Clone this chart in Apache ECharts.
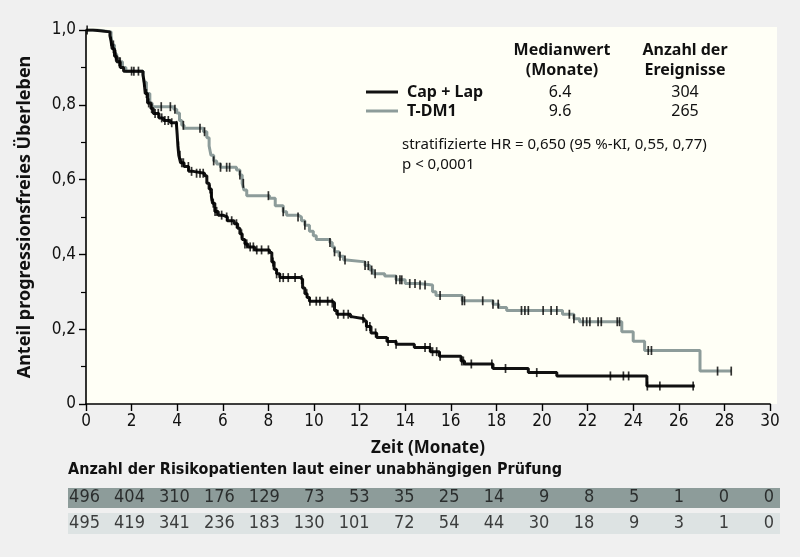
<!DOCTYPE html>
<html><head><meta charset="utf-8">
<script src="https://cdn.jsdelivr.net/npm/echarts@6/dist/echarts.min.js"></script>
<style>html,body{margin:0;padding:0;background:#f0f0f0}#c{width:800px;height:557px}</style>
</head><body><div id="c"></div>
<script>
// Kaplan-Meier step points [Zeit (Monate), Anteil]
const capLap = [[0,1.0],[0.3,0.995],[1.05,0.985],[1.1,0.97],[1.15,0.95],[1.25,0.93],[1.35,0.915],[1.5,0.90],[1.65,0.89],[2.5,0.88],[2.55,0.86],[2.6,0.83],[2.7,0.805],[2.85,0.79],[2.95,0.777],[3.2,0.765],[3.4,0.758],[3.7,0.752],[3.97,0.745],[4.0,0.72],[4.03,0.69],[4.07,0.665],[4.15,0.645],[4.3,0.635],[4.5,0.622],[4.7,0.617],[5.2,0.61],[5.3,0.59],[5.4,0.575],[5.5,0.555],[5.55,0.537],[5.65,0.515],[5.8,0.505],[6.0,0.50],[6.2,0.49],[6.5,0.482],[6.65,0.47],[6.75,0.455],[6.85,0.44],[6.97,0.428],[7.1,0.42],[7.4,0.412],[8.05,0.405],[8.15,0.38],[8.25,0.36],[8.36,0.348],[8.5,0.338],[9.4,0.333],[9.5,0.31],[9.6,0.295],[9.7,0.285],[9.8,0.275],[10.8,0.27],[10.9,0.25],[11.0,0.24],[11.6,0.233],[11.7,0.228],[12.2,0.222],[12.3,0.207],[12.5,0.19],[12.75,0.178],[13.2,0.167],[13.6,0.16],[14.4,0.151],[15.1,0.14],[15.5,0.128],[16.45,0.115],[16.6,0.107],[17.85,0.095],[19.4,0.084],[20.65,0.075],[24.6,0.048],[26.7,0.048]];
const tdm1 = [[0,1.0],[0.5,0.995],[1.1,0.985],[1.15,0.96],[1.25,0.935],[1.35,0.915],[1.6,0.90],[1.75,0.89],[2.5,0.88],[2.55,0.86],[2.65,0.83],[2.8,0.805],[2.9,0.795],[3.85,0.788],[3.98,0.778],[4.1,0.758],[4.2,0.745],[4.3,0.737],[5.15,0.728],[5.3,0.712],[5.4,0.69],[5.48,0.665],[5.6,0.65],[5.73,0.642],[5.9,0.633],[6.6,0.626],[6.75,0.612],[6.85,0.59],[6.93,0.572],[7.05,0.557],[8.05,0.55],[8.3,0.53],[8.65,0.514],[8.8,0.505],[9.3,0.5],[9.45,0.49],[9.6,0.478],[9.8,0.462],[9.97,0.45],[10.1,0.44],[10.7,0.432],[10.8,0.42],[10.9,0.407],[11.1,0.395],[11.3,0.385],[11.43,0.38],[12.24,0.37],[12.45,0.358],[12.6,0.348],[13.1,0.342],[13.6,0.332],[14.0,0.322],[14.6,0.318],[15.2,0.30],[15.35,0.29],[16.5,0.276],[17.85,0.267],[18.1,0.258],[18.45,0.25],[20.9,0.24],[21.4,0.228],[21.65,0.22],[23.5,0.193],[24.0,0.168],[24.5,0.143],[26.93,0.088],[28.3,0.088]];
// censored observation times
const capLapCensor = [0.05,1.1,1.2,1.3,1.45,2.1,2.55,2.65,2.75,2.88,3.03,3.17,3.32,3.46,3.61,3.76,3.98,4.05,4.12,4.2,4.27,4.49,4.63,4.85,5.0,5.14,5.44,5.51,5.58,5.66,5.73,5.95,6.17,6.39,6.6,6.82,6.97,7.05,7.2,7.34,7.49,7.7,8.0,8.2,8.36,8.5,8.65,8.87,9.17,9.46,9.68,9.82,10.1,10.26,10.6,10.8,11.05,11.3,11.5,12.15,12.3,12.45,12.7,13.25,13.6,14.87,15.09,15.2,15.38,15.53,16.48,16.55,16.9,17.8,18.4,19.77,23.0,23.57,23.8,24.62,25.17,26.63];
const tdm1Censor = [1.2,1.3,1.5,2.0,2.3,3.3,3.7,3.9,4.27,5.0,5.2,5.6,5.9,6.17,6.3,6.75,6.9,8.0,8.65,9.3,9.6,10.7,10.9,11.14,11.36,12.24,12.38,12.53,12.68,13.6,13.77,13.85,14.2,14.43,14.65,14.87,15.53,16.5,16.6,17.4,17.85,18.08,19.1,19.25,19.4,20.05,20.4,20.65,21.2,21.4,21.8,21.96,22.1,22.46,22.6,23.3,23.4,24.66,24.8,27.7,28.3];
const xTicks = [0,2,4,6,8,10,12,14,16,18,20,22,24,26,28,30];
const riskCapLap = [496,404,310,176,129,73,53,35,25,14,9,8,5,1,0,0];
const riskTdm1 = [495,419,341,236,183,130,101,72,54,44,30,18,9,3,1,0];
const seriesNames = ['Cap + Lap','T-DM1'];
const medians = ['6.4','9.6'];
const events = ['304','265'];

const BLACK = '#111111', GREY = '#8d9c9a';
const FONT = "'Noto Sans', 'DejaVu Sans', sans-serif";
const NARROW = "'Liberation Sans Narrow', 'DejaVu Sans Condensed', 'Noto Sans', sans-serif";

function survAt(curve, t){ let s = curve[0][1]; for (const p of curve){ if (p[0] <= t + 1e-9) s = p[1]; else break; } return s; }

const chart = echarts.init(document.getElementById('c'), null, {renderer:'canvas'});
const option = {
  backgroundColor: '#f0f0f0',
  animation: false,
  textStyle: {fontFamily: FONT},
  grid: [
    {left: 86, right: 30, top: 30, bottom: 153},
    {left: 100, right: 26, top: 484, height: 52}
  ],
  xAxis: [
    {type:'value', gridIndex:0, min:0, max:30, interval:2,
     axisLine:{show:true, lineStyle:{color:'#000', width:1.6}},
     axisTick:{show:true, length:7, lineStyle:{color:'#000', width:1.4}},
     axisLabel:{color:'#111', fontSize:17, margin:9, fontFamily:NARROW},
     splitLine:{show:false},
     name:'Zeit (Monate)', nameLocation:'middle', nameGap:36,
     nameTextStyle:{fontWeight:'bold', fontSize:17, color:'#111', fontFamily:FONT}},
    {type:'value', gridIndex:1, min:0, max:30, show:false}
  ],
  yAxis: [
    {type:'value', gridIndex:0, min:0, max:1, interval:0.2,
     axisLine:{show:true, lineStyle:{color:'#000', width:1.6}},
     axisTick:{show:true, length:7, lineStyle:{color:'#000', width:1.4}},
     minorTick:{show:true, splitNumber:2, length:5, lineStyle:{color:'#000', width:1.2}},
     axisLabel:{color:'#111', fontSize:17, margin:10, fontFamily:NARROW,
       formatter: v => v === 0 ? '0' : v.toFixed(1).replace('.', ',')},
     splitLine:{show:false},
     name:'Anteil progressionsfreies Überleben', nameLocation:'middle', nameGap:52,
     nameTextStyle:{fontWeight:'bold', fontSize:18, color:'#111', fontFamily:FONT}},
    {type:'category', gridIndex:1, data:['a','b'], inverse:true, show:false}
  ],
  legend: {
    data: seriesNames, orient:'vertical', left:366, top:83, padding:0, itemWidth:32, itemHeight:3,
    icon:'rect', itemGap:1,
    textStyle:{fontWeight:'bold', fontSize:16, color:'#111', lineHeight:18, padding:[0,0,0,4], fontFamily:FONT}
  },
  graphic: [
    {type:'rect', z:-100, silent:true, shape:{x:86, y:27, width:691, height:377}, style:{fill:'#fffff6'}},
    {type:'rect', z:-100, silent:true, shape:{x:68, y:488, width:712, height:20}, style:{fill:'#8d9c9a'}},
    {type:'rect', z:-100, silent:true, shape:{x:68, y:513, width:712, height:21}, style:{fill:'#dde3e3'}},
    {type:'text', left:68, top:462, style:{text:'Anzahl der Risikopatienten laut einer unabhängigen Prüfung', font:"bold 16px "+NARROW, fill:'#111'}},
    {type:'text', x:562, y:50, style:{text:'Medianwert', font:'bold 16px '+FONT, fill:'#111', textAlign:'center', textVerticalAlign:'middle'}},
    {type:'text', x:562, y:70, style:{text:'(Monate)', font:'bold 16px '+FONT, fill:'#111', textAlign:'center', textVerticalAlign:'middle'}},
    {type:'text', x:685, y:50, style:{text:'Anzahl der', font:'bold 16px '+FONT, fill:'#111', textAlign:'center', textVerticalAlign:'middle'}},
    {type:'text', x:685, y:70, style:{text:'Ereignisse', font:'bold 16px '+FONT, fill:'#111', textAlign:'center', textVerticalAlign:'middle'}},
    {type:'text', x:560, y:92, style:{text:medians[0], font:'16px '+FONT, fill:'#111', textAlign:'center', textVerticalAlign:'middle'}},
    {type:'text', x:560, y:111, style:{text:medians[1], font:'16px '+FONT, fill:'#111', textAlign:'center', textVerticalAlign:'middle'}},
    {type:'text', x:685, y:92, style:{text:events[0], font:'16px '+FONT, fill:'#111', textAlign:'center', textVerticalAlign:'middle'}},
    {type:'text', x:685, y:111, style:{text:events[1], font:'16px '+FONT, fill:'#111', textAlign:'center', textVerticalAlign:'middle'}},
    {type:'text', x:402, y:145, style:{text:'stratifizierte HR = 0,650 (95 %-KI, 0,55, 0,77)', font:'15px '+FONT, fill:'#111', textVerticalAlign:'middle'}},
    {type:'text', x:402, y:165, style:{text:'p < 0,0001', font:'15px '+FONT, fill:'#111', textVerticalAlign:'middle'}}
  ],
  series: [
    {name:seriesNames[0], type:'line', xAxisIndex:0, yAxisIndex:0, step:'end', symbol:'none', color:BLACK,
     lineStyle:{color:BLACK, width:3}, data:capLap, z:4},
    {name:seriesNames[1], type:'line', xAxisIndex:0, yAxisIndex:0, step:'end', symbol:'none', color:GREY,
     lineStyle:{color:GREY, width:3}, data:tdm1, z:3},
    {name:'zensiert1', type:'scatter', xAxisIndex:0, yAxisIndex:0, symbol:'rect', symbolSize:[1.7,9],
     itemStyle:{color:'#000'}, data:capLapCensor.map(t => [t, survAt(capLap, t)]), z:6},
    {name:'zensiert2', type:'scatter', xAxisIndex:0, yAxisIndex:0, symbol:'rect', symbolSize:[1.7,9],
     itemStyle:{color:'#000'}, data:tdm1Censor.map(t => [t, survAt(tdm1, t)]), z:5},
    {name:'risk1', type:'scatter', xAxisIndex:1, yAxisIndex:1, symbolSize:0,
     label:{show:true, position:'inside', align:'right', verticalAlign:'middle', color:'#111', fontSize:18, fontFamily:NARROW, formatter:p => String(p.value[2])},
     data:xTicks.map((t,i) => [t, 'a', riskCapLap[i]])},
    {name:'risk2', type:'scatter', xAxisIndex:1, yAxisIndex:1, symbolSize:0,
     label:{show:true, position:'inside', align:'right', verticalAlign:'middle', color:'#111', fontSize:18, fontFamily:NARROW, formatter:p => String(p.value[2])},
     data:xTicks.map((t,i) => [t, 'b', riskTdm1[i]])}
  ]
};
chart.setOption(option);
</script></body></html>
